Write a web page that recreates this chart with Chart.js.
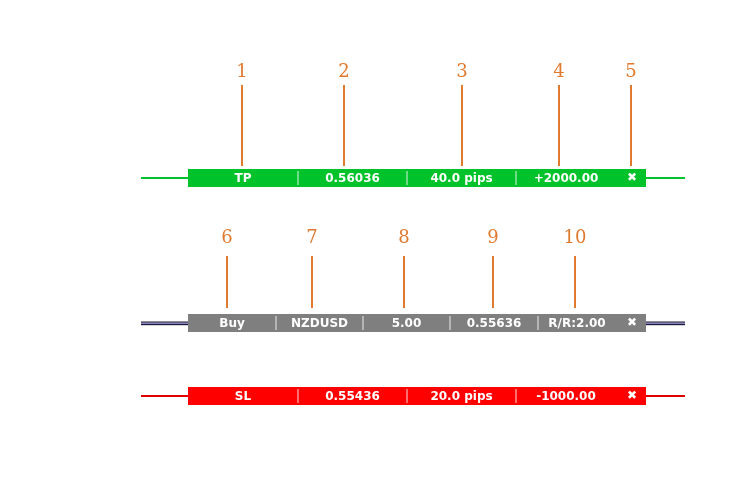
<!DOCTYPE html>
<html>
<head>
<meta charset="utf-8">
<script src="https://cdn.jsdelivr.net/npm/chart.js@4.4.0/dist/chart.umd.min.js"></script>
<style>
  html, body { margin: 0; padding: 0; background: #fff; }
  #wrap { width: 751px; height: 480px; }
</style>
</head>
<body>
<div id="wrap"><canvas id="c"></canvas></div>
<script>
// Rows of the trade panel (canvas units: x 0..751, y 0..480 top-down)
const rowNames = ['TP', 'Entry', 'SL'];
const rowY = [178, 323, 396];
const rowColors = ['#00c22a', '#7f7f7f', '#ff0000'];
const lineColors = ['#00c22a', '#1a1a3a', '#e00000'];
const rowCells = [
    ['TP', '0.56036', '40.0 pips', '+2000.00'],
    ['Buy', 'NZDUSD', '5.00', '0.55636', 'R/R:2.00'],
    ['SL', '0.55436', '20.0 pips', '-1000.00']
];
const rowEdges = [
    [188, 298, 407, 516, 646],
    [188, 276, 363, 450, 538, 646],
    [188, 298, 407, 516, 646]
];
// Annotation callouts
const calloutLabels = ['1', '2', '3', '4', '5', '6', '7', '8', '9', '10'];
const calloutX = [242, 344, 462, 559, 631, 227, 312, 404, 493, 575];
const calloutTextY = [72, 72, 72, 72, 72, 238, 238, 238, 238, 238];
const calloutLineTop = [85, 85, 85, 85, 85, 256, 256, 256, 256, 256];
const calloutLineBottom = [166, 166, 166, 166, 166, 308, 308, 308, 308, 308];

const panelPlugin = {
    id: 'panel',
    afterDatasetsDraw(chart) {
        const ctx = chart.ctx;
        const xs = chart.scales.x, ys = chart.scales.y;
        const px = v => xs.getPixelForValue(v);
        const py = v => ys.getPixelForValue(v);
        ctx.save();
        rowNames.forEach((name, r) => {
            const yc = py(rowY[r]);
            const edges = rowEdges[r];
            // price line
            if (r === 1) {
                ctx.fillStyle = '#1a1a3a';
                ctx.fillRect(px(141), yc - 1.5, px(685) - px(141), 1.2);
                ctx.fillStyle = '#8a7fc0';
                ctx.fillRect(px(141), yc, px(685) - px(141), 1);
                ctx.fillStyle = '#1a1a3a';
                ctx.fillRect(px(141), yc + 1, px(685) - px(141), 1.2);
            } else {
                ctx.fillStyle = lineColors[r];
                ctx.fillRect(px(141), yc - 1, px(685) - px(141), 2);
            }
            // box
            ctx.fillStyle = rowColors[r];
            const x0 = px(edges[0]), x1 = px(edges[edges.length - 1]);
            ctx.fillRect(x0, yc - 9, x1 - x0, 18);
            // dividers
            ctx.fillStyle = 'rgba(255,255,255,0.85)';
            for (let i = 1; i < edges.length - 1; i++) {
                ctx.fillRect(px(edges[i]) - 0.5, yc - 7, 1, 14);
            }
            // text
            ctx.fillStyle = '#ffffff';
            ctx.font = 'bold 12px "DejaVu Sans", sans-serif';
            ctx.textAlign = 'center';
            ctx.textBaseline = 'middle';
            const cells = rowCells[r];
            cells.forEach((t, i) => {
                const a = edges[i];
                const b = i === cells.length - 1 && edges.length - 1 === cells.length ? 616 : edges[i + 1];
                ctx.fillText(t, px((a + b) / 2), yc + 1);
            });
            ctx.fillText('\u2716', px(632), yc);
        });
        // callouts
        ctx.strokeStyle = '#e07a2e';
        ctx.fillStyle = '#e07a2e';
        ctx.lineWidth = 2;
        ctx.font = '18px "DejaVu Serif", "Liberation Serif", serif';
        ctx.textAlign = 'center';
        ctx.textBaseline = 'middle';
        calloutLabels.forEach((l, i) => {
            ctx.fillText(l, px(calloutX[i]), py(calloutTextY[i]));
            ctx.beginPath();
            ctx.moveTo(px(calloutX[i]), py(calloutLineTop[i]));
            ctx.lineTo(px(calloutX[i]), py(calloutLineBottom[i]));
            ctx.stroke();
        });
        ctx.restore();
    }
};

new Chart(document.getElementById('c'), {
    type: 'scatter',
    data: {
        datasets: [{
            data: calloutX.map((x, i) => ({ x: x, y: calloutTextY[i] })),
            pointRadius: 0
        }]
    },
    options: {
        responsive: true,
        maintainAspectRatio: false,
        animation: false,
        layout: { padding: 0 },
        plugins: { legend: { display: false }, tooltip: { enabled: false } },
        scales: {
            x: { type: 'linear', min: 0, max: 751, display: false },
            y: { type: 'linear', min: 0, max: 480, reverse: true, display: false }
        }
    },
    plugins: [panelPlugin]
});
</script>
</body>
</html>
